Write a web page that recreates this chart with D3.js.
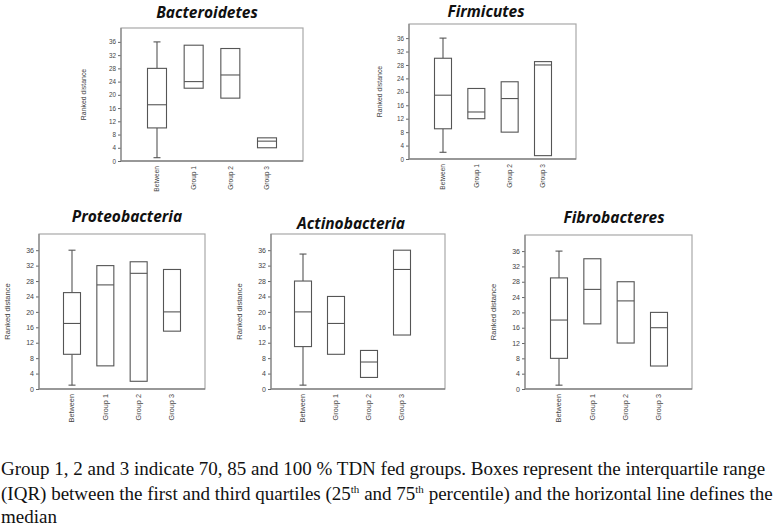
<!DOCTYPE html>
<html>
<head>
<meta charset="utf-8">
<script src="https://cdn.jsdelivr.net/npm/d3@7"></script>
<style>
  body { margin:0; background:#fff; }
  .title { font-family:"Open Sans", sans-serif; font-weight:bold; font-style:italic; text-anchor:middle; fill:#111; }
  .tick text { font-family:Arial, "Liberation Sans", sans-serif; fill:#444; }
  .cat { font-family:Arial, "Liberation Sans", sans-serif; fill:#444; }
  .ylab { font-family:Arial, "Liberation Sans", sans-serif; fill:#444; text-anchor:middle; }
  .caption { font-family:"Liberation Serif", "Times New Roman", serif; font-size:19px; fill:#111; }
</style>
</head>
<body>
<div id="grafico"></div>
<script>
// categorias
const groups = ["Between", "Group 1", "Group 2", "Group 3"];
const yTicks = [0, 4, 8, 12, 16, 20, 24, 28, 32, 36];

// data por phylum: [low whisker, q1, median, q3, high whisker] (null = no whisker)
const bacteroidetes = [[1, 10, 17, 28, 36], [null, 22, 24, 35, null], [null, 19, 26, 34, null], [null, 4, 6, 7, null]];
const firmicutes = [[2, 9, 19, 30, 36], [null, 12, 14, 21, null], [null, 8, 18, 23, null], [null, 1, 28, 29, null]];
const proteobacteria = [[1, 9, 17, 25, 36], [null, 6, 27, 32, null], [null, 2, 30, 33, null], [null, 15, 20, 31, null]];
const actinobacteria = [[1, 11, 20, 28, 35], [null, 9, 17, 24, null], [null, 3, 7, 10, null], [null, 14, 31, 36, null]];
const fibrobacteres = [[1, 8, 18, 29, 36], [null, 17, 26, 34, null], [null, 12, 23, 28, null], [null, 6, 16, 20, null]];

//layout de cada panel
const panels = [
  {name:"Bacteroidetes", data:bacteroidetes, x0:121, x1:303, y0:28, y1:161, catL:157, catR:267, ylabX:86, titleX:207, titleY:18, fs:6.3, bw:19},
  {name:"Firmicutes", data:firmicutes, x0:409, x1:576, y0:24, y1:159, catL:443, catR:543, ylabX:382, titleX:486, titleY:16.5, fs:6.3, bw:17},
  {name:"Proteobacteria", data:proteobacteria, x0:39, x1:205, y0:234, y1:389, catL:72, catR:172, ylabX:10, titleX:127, titleY:222, fs:7, bw:17},
  {name:"Actinobacteria", data:actinobacteria, x0:271, x1:445, y0:234, y1:389, catL:303, catR:402, ylabX:242, titleX:351, titleY:229, fs:7, bw:17},
  {name:"Fibrobacteres", data:fibrobacteres, x0:525, x1:692, y0:235, y1:389, catL:559, catR:659, ylabX:496, titleX:614, titleY:223, fs:7, bw:17}
];

const svg = d3.select("#grafico").append("svg")
  .attr("width", 784).attr("height", 527);

panels.forEach(p => {
  const g = svg.append("g");
  const y = d3.scaleLinear().domain([0, 40.2]).range([p.y1, p.y0]);
  const x = d3.scalePoint().domain(groups).range([p.catL, p.catR]);

  // frame
  g.append("rect")
    .attr("x", p.x0).attr("y", p.y0)
    .attr("width", p.x1 - p.x0).attr("height", p.y1 - p.y0)
    .attr("fill", "none").attr("stroke", "#a8a8a8").attr("stroke-width", 1.2);

  // eje y
  const ay = g.append("g")
    .attr("transform", `translate(${p.x0},0)`)
    .call(d3.axisLeft(y).tickValues(yTicks).tickSize(3).tickPadding(2));
  ay.select(".domain").remove();
  ay.selectAll(".tick line").attr("stroke", "#666");
  ay.selectAll(".tick text").style("font-size", p.fs + "px");

  // eje x
  g.append("line")
    .attr("x1", p.x0).attr("x2", p.x1).attr("y1", p.y1).attr("y2", p.y1)
    .attr("stroke", "#666").attr("stroke-width", 1.2);
  g.append("line")
    .attr("x1", p.x0).attr("x2", p.x0).attr("y1", p.y0).attr("y2", p.y1)
    .attr("stroke", "#888").attr("stroke-width", 1.2);

  g.selectAll(".cat").data(groups).enter().append("text")
    .attr("class", "cat")
    .attr("transform", d => `translate(${x(d) + p.fs * 0.35},${p.y1 + 5}) rotate(-90)`)
    .style("text-anchor", "end")
    .style("font-size", (p.fs + 0.3) + "px")
    .text(d => d);

  // label eje y
  g.append("text")
    .attr("class", "ylab")
    .attr("transform", `translate(${p.ylabX},${(p.y0 + p.y1) / 2}) rotate(-90)`)
    .style("font-size", (p.fs + 0.6) + "px")
    .text("Ranked distance");

  // titulo
  g.append("text")
    .attr("class", "title")
    .attr("x", p.titleX)
    .attr("y", p.titleY)
    .style("font-size", "15.5px")
    .text(p.name);

  // cajas
  const boxes = g.selectAll(".box").data(p.data.map((d, i) => ({g: groups[i], v: d})))
    .enter().append("g").attr("class", "box");

  boxes.filter(d => d.v[0] !== null).each(function(d) {
    const s = d3.select(this);
    const cx = x(d.g);
    s.append("line").attr("x1", cx).attr("x2", cx).attr("y1", y(d.v[0])).attr("y2", y(d.v[1]));
    s.append("line").attr("x1", cx).attr("x2", cx).attr("y1", y(d.v[3])).attr("y2", y(d.v[4]));
    s.append("line").attr("x1", cx - 3.5).attr("x2", cx + 3.5).attr("y1", y(d.v[0])).attr("y2", y(d.v[0]));
    s.append("line").attr("x1", cx - 3.5).attr("x2", cx + 3.5).attr("y1", y(d.v[4])).attr("y2", y(d.v[4]));
  });

  boxes.append("rect")
    .attr("x", d => x(d.g) - p.bw / 2)
    .attr("y", d => y(d.v[3]))
    .attr("width", p.bw)
    .attr("height", d => y(d.v[1]) - y(d.v[3]))
    .attr("fill", "#fff");

  boxes.append("line")
    .attr("x1", d => x(d.g) - p.bw / 2).attr("x2", d => x(d.g) + p.bw / 2)
    .attr("y1", d => y(d.v[2])).attr("y2", d => y(d.v[2]));

  boxes.selectAll("line, rect").attr("stroke", "#555").attr("stroke-width", 1.1);
});

// caption
const caption = svg.append("text").attr("class", "caption");
caption.append("tspan").attr("x", 1).attr("y", 475)
  .text("Group 1, 2 and 3 indicate 70, 85 and 100 % TDN fed groups. Boxes represent the interquartile range");
const l2 = caption.append("tspan").attr("x", 1).attr("y", 499.5);
l2.append("tspan").text("(IQR) between the first and third quartiles (25");
l2.append("tspan").attr("dy", -7).style("font-size", "11px").text("th");
l2.append("tspan").attr("dy", 7).text(" and 75");
l2.append("tspan").attr("dy", -7).style("font-size", "11px").text("th");
l2.append("tspan").attr("dy", 7).text(" percentile) and the horizontal line defines the");
caption.append("tspan").attr("x", 1).attr("y", 523).text("median");
</script>
</body>
</html>
